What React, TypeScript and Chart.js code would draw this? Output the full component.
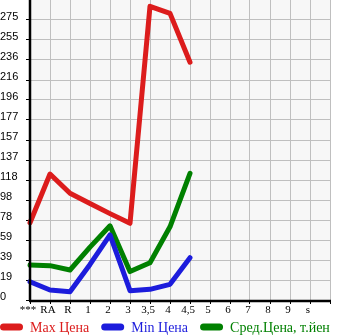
import { useEffect, useRef } from 'react';
import { Chart, registerables } from 'chart.js';

Chart.register(...registerables);

const categories = ['***', 'RA', 'R', '1', '2', '3', '3,5', '4', '4,5', '5', '6', '7', '8', '9', 's', ''];
const maxPrice = [76, 124, 105, 95, 85, 75.5, 289, 282, 234];
const minPrice = [18, 9.8, 8.2, 35, 64, 9.2, 10.5, 15.4, 41.6];
const avgPrice = [34.4, 33.8, 29.5, 52, 73, 28, 36.7, 72, 124.7];
const yTickLabels = ['0', '19', '39', '59', '78', '98', '118', '137', '157', '177', '196', '216', '236', '255', '275'];
const yStep = 19.68;
const yMax = 295.2;
const seriesNames = ['Max Цена', 'Min Цена', 'Сред.Цена, т.йен'];
const seriesColors = ['rgb(220,28,28)', 'rgb(28,28,220)', 'rgb(0,128,0)'];

const bgPlugin = {
  id: 'plotBg',
  beforeDraw(chart: any) {
    const { ctx, chartArea } = chart;
    ctx.save();
    ctx.fillStyle = '#f7f7f7';
    ctx.fillRect(chartArea.left, chartArea.top, chartArea.right - chartArea.left, chartArea.bottom - chartArea.top);
    ctx.restore();
  },
};

const axisPlugin = {
  id: 'axisLines',
  afterDatasetsDraw(chart: any) {
    const { ctx, chartArea } = chart;
    ctx.save();
    ctx.strokeStyle = '#000';
    ctx.lineWidth = 2.5;
    ctx.beginPath();
    ctx.moveTo(chartArea.left, chartArea.top);
    ctx.lineTo(chartArea.left, chartArea.bottom + 1);
    ctx.moveTo(chartArea.left - 1, chartArea.bottom + 1);
    ctx.lineTo(chartArea.right + 1, chartArea.bottom + 1);
    ctx.stroke();
    ctx.restore();
  },
};

const legendPlugin = {
  id: 'customLegend',
  afterDraw(chart: any) {
    const ctx = chart.ctx;
    ctx.save();
    ctx.font = '14px "Liberation Serif"';
    ctx.textBaseline = 'alphabetic';
    let x = 0;
    const y = 327;
    chart.data.datasets.forEach((ds: any) => {
      ctx.strokeStyle = ds.borderColor;
      ctx.lineWidth = 7;
      ctx.lineCap = 'round';
      ctx.beginPath();
      ctx.moveTo(x + 3.5, y);
      ctx.lineTo(x + 19.5, y);
      ctx.stroke();
      ctx.fillStyle = ds.borderColor;
      ctx.fillText(ds.label, x + 30, y + 5);
      x += 30 + ctx.measureText(ds.label).width + 12;
    });
    ctx.restore();
  },
};

export default function App() {
  const ref = useRef<HTMLCanvasElement>(null);

  useEffect(() => {
    if (!ref.current) return;
    const series = [maxPrice, minPrice, avgPrice];
    const chart = new Chart(ref.current, {
      type: 'line',
      data: {
        labels: categories,
        datasets: series.map((d, i) => ({
          label: seriesNames[i],
          data: d,
          borderColor: seriesColors[i],
          backgroundColor: seriesColors[i],
          borderWidth: 5,
          tension: 0,
          pointRadius: 0,
          pointHitRadius: 0,
          borderCapStyle: 'round' as const,
          borderJoinStyle: 'round' as const,
          fill: false,
          clip: false as any,
        })),
      },
      options: {
        responsive: false,
        animation: false,
        layout: { padding: { left: 0, right: 15, top: 0, bottom: 17 } },
        plugins: {
          legend: { display: false },
          tooltip: { enabled: false },
        },
        scales: {
          x: {
            offset: false,
            border: { display: false },
            grid: { color: '#bfbfbf', tickColor: '#000', tickLength: 4, lineWidth: 1 },
            ticks: {
              autoSkip: false,
              maxRotation: 0,
              minRotation: 0,
              padding: 0,
              color: '#000',
              labelOffset: -2,
              font: { family: 'Liberation Serif', size: 11 },
            },
            afterFit(scale: any) {
              scale.height = 18;
              scale.paddingLeft = 0;
              scale.paddingRight = 0;
            },
          },
          y: {
            min: 0,
            max: yMax,
            border: { display: false },
            grid: { color: '#bfbfbf', tickColor: '#000', tickLength: 4, lineWidth: 1 },
            afterBuildTicks(scale: any) {
              scale.ticks = yTickLabels.map((_, i) => ({ value: i * yStep }));
            },
            ticks: {
              callback: (_v: any, i: number) => yTickLabels[i] ?? '',
              crossAlign: 'far',
              padding: 0,
              color: '#000',
              labelOffset: -3,
              font: { family: 'Liberation Sans', size: 11 },
            },
            afterFit(scale: any) {
              scale.width = 30;
              scale.paddingTop = 0;
              scale.paddingBottom = 0;
            },
          },
        },
      },
      plugins: [bgPlugin, axisPlugin, legendPlugin],
    });
    return () => chart.destroy();
  }, []);

  return (
    <div style={{ position: 'absolute', left: 0, top: 0, width: 345, height: 335, background: '#fff' }}>
      <canvas ref={ref} width={345} height={335} style={{ display: 'block' }} />
    </div>
  );
}
